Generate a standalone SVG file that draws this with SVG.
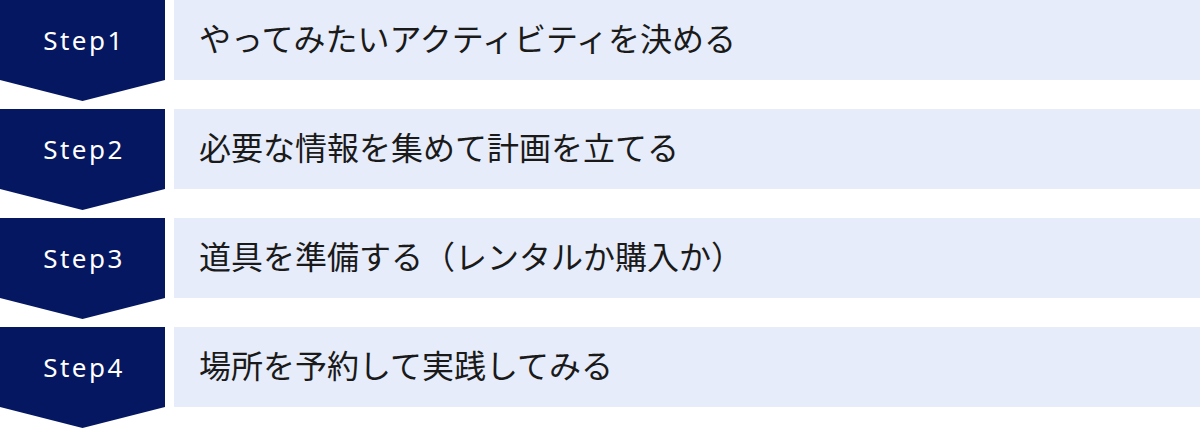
<svg xmlns="http://www.w3.org/2000/svg" width="1200" height="429" viewBox="0 0 1200 429">
<style>
.badge{fill:#041760}
.panel{fill:#E6ECF9}
.step{font-family:"Noto Sans","Noto Sans CJK JP",sans-serif;font-size:26px;fill:#ffffff;text-anchor:middle;letter-spacing:2.5px}
.label{font-family:"Noto Sans CJK JP","Noto Sans",sans-serif;font-size:32px;fill:#1a1a1a}
</style>
<rect width="1200" height="429" fill="#ffffff"/>
<g id="step1">
<polygon class="badge" points="0,0 165,0 165,80 82.5,101 0,80"/>
<text class="step" x="84" y="50">Step1</text>
<rect class="panel" x="174" y="0" width="1026" height="80"/>
<text class="label" x="199" y="51">やってみたいアクティビティを決める</text>
</g>
<g id="step2">
<polygon class="badge" points="0,109 165,109 165,189 82.5,210 0,189"/>
<text class="step" x="84" y="159">Step2</text>
<rect class="panel" x="174" y="109" width="1026" height="80"/>
<text class="label" x="199" y="160">必要な情報を集めて計画を立てる</text>
</g>
<g id="step3">
<polygon class="badge" points="0,218 165,218 165,298 82.5,319 0,298"/>
<text class="step" x="84" y="268">Step3</text>
<rect class="panel" x="174" y="218" width="1026" height="80"/>
<text class="label" x="199" y="269">道具を準備する（レンタルか購入か）</text>
</g>
<g id="step4">
<polygon class="badge" points="0,327 165,327 165,407 82.5,428 0,407"/>
<text class="step" x="84" y="377">Step4</text>
<rect class="panel" x="174" y="327" width="1026" height="80"/>
<text class="label" x="199" y="378">場所を予約して実践してみる</text>
</g>
<g id="connectors"></g>
</svg>
